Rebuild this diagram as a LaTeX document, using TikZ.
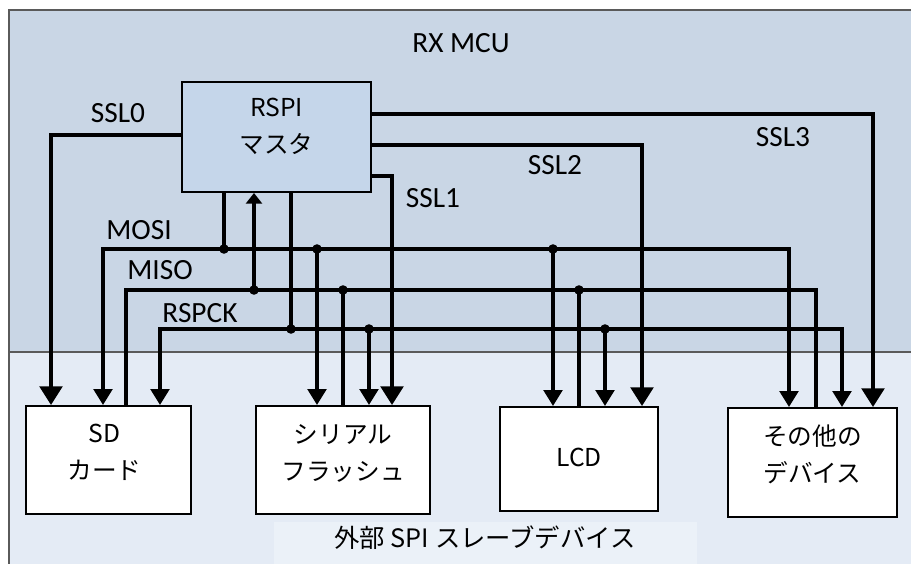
\documentclass[tikz,border=0pt]{standalone}
\usepackage{fontspec}
\setmainfont{Carlito}
\newfontfamily\jpfont{Noto Sans CJK JP}
\usetikzlibrary{arrows.meta, positioning}

\definecolor{mcublue}{RGB}{201,214,229}
\definecolor{rspiblue}{RGB}{197,214,234}
\definecolor{extblue}{RGB}{228,235,245}
\definecolor{lblblue}{RGB}{235,241,248}
\definecolor{framegray}{RGB}{90,90,90}

\begin{document}
\begin{tikzpicture}[x=0.75pt, y=-0.75pt, font=\fontsize{22}{26}\selectfont,
  box/.style = {draw, line width=1.5pt, inner sep=0pt},
  dev/.style = {box, fill=white},
  boxtext/.style = {align=center, font=\jpfont\fontsize{18.5}{27.75}\selectfont},
  wire/.style = {line width=2.6pt},
  selarrow/.style = {wire, -{Triangle[width=17pt, length=14pt]}},
  datarrow/.style = {wire, -{Triangle[width=14pt, length=12pt]}}]
  \useasboundingbox (0,0) rectangle (911,564);

  % background areas
  \fill[mcublue] (9,10) rectangle (911,352);
  \fill[extblue] (9,352) rectangle (911,564);
  \fill[lblblue] (274,522) rectangle (697,564);
  \draw[framegray, line width=0.8pt] (911,10) -- (9,10) -- (9,564);
  \draw[framegray, line width=0.8pt] (9,352) -- (911,352);

  \node (mcu) at (461,43) {RX MCU};
  \node[boxtext, font=\jpfont\fontsize{19}{23}\selectfont] (ext) at (485,538) {外部 SPI スレーブデバイス};

  % master and slave devices
  \node[box, fill=rspiblue, minimum width=141.75pt, minimum height=82.5pt,
        label={[boxtext, yshift=8pt]center:RSPI\\マスタ}] (rspi) at (276.5,137) {};
  \node[dev, minimum width=123.75pt, minimum height=81pt,
        label={[boxtext, yshift=6pt, xshift=-3pt]center:SD\\カード}] (sd) at (108.5,460) {};
  \node[dev, minimum width=130.5pt, minimum height=81pt,
        label={[boxtext, yshift=5pt]center:シリアル\\フラッシュ}] (flash) at (343,460) {};
  \node[dev, minimum width=118.5pt, minimum height=78pt,
        label={[boxtext, yshift=1.5pt]center:LCD}] (lcd) at (579,459) {};
  \node[dev, minimum width=126.75pt, minimum height=81.75pt,
        label={[boxtext, yshift=6pt]center:その他の\\デバイス}] (other) at (812.5,462.5) {};

  % bus taps
  \foreach \n/\x in {sd/103, fl/317, lcd/553, oth/789, m/224}
    \coordinate (mosi-\n) at (\x,249);
  \foreach \n/\x in {sd/126, fl/343, lcd/579, oth/816, m/254}
    \coordinate (miso-\n) at (\x,290);
  \foreach \n/\x in {sd/160, fl/369, lcd/605, oth/842, m/291}
    \coordinate (sck-\n) at (\x,329);
  \foreach \n/\x in {0/51, 1/392, 2/642, 3/873}
    \coordinate (ssl\n) at (\x,0);

  % slave selects
  \draw[selarrow] (rspi.west |- 0,135) -| (sd.north -| ssl0);
  \draw[selarrow] (rspi.east |- 0,176) -| (flash.north -| ssl1);
  \draw[selarrow] (rspi.east |- 0,145) -| (lcd.north -| ssl2);
  \draw[selarrow] (rspi.east |- 0,114) -| (other.north -| ssl3);

  % MOSI, MISO, RSPCK
  \draw[wire, {Triangle[width=14pt, length=12pt]}-{Triangle[width=14pt, length=12pt]}]
    (sd.north -| mosi-sd) -- (mosi-sd) -- (mosi-oth) -- (other.north -| mosi-oth);
  \draw[wire] (sd.north -| miso-sd) -- (miso-sd) -- (miso-oth) -- (other.north -| miso-oth);
  \draw[wire, {Triangle[width=14pt, length=12pt]}-{Triangle[width=14pt, length=12pt]}]
    (sd.north -| sck-sd) -- (sck-sd) -- (sck-oth) -- (other.north -| sck-oth);

  \draw[wire] (rspi.south -| mosi-m) -- (mosi-m);
  \draw[wire, -{Triangle[width=12pt, length=8pt]}] (miso-m) -- (rspi.south -| miso-m);
  \draw[wire] (rspi.south -| sck-m) -- (sck-m);

  \draw[datarrow] (mosi-fl) -- (flash.north -| mosi-fl);
  \draw[datarrow] (mosi-lcd) -- (lcd.north -| mosi-lcd);
  \draw[wire] (flash.north -| miso-fl) -- (miso-fl);
  \draw[wire] (lcd.north -| miso-lcd) -- (miso-lcd);
  \draw[datarrow] (sck-fl) -- (flash.north -| sck-fl);
  \draw[datarrow] (sck-lcd) -- (lcd.north -| sck-lcd);

  \foreach \p in {mosi-m, mosi-fl, mosi-lcd, miso-m, miso-fl, miso-lcd, sck-m, sck-fl, sck-lcd}
    \fill (\p) circle (3.6pt);

  % signal names
  \node (ssl0-lbl) at (118,113) {SSL0};
  \node (ssl1-lbl) at (433,198) {SSL1};
  \node (ssl2-lbl) at (555,165) {SSL2};
  \node (ssl3-lbl) at (783,137) {SSL3};
  \node (mosi-lbl) at (139,230) {MOSI};
  \node (miso-lbl) at (160,270) {MISO};
  \node (sck-lbl) at (200,313) {RSPCK};
\end{tikzpicture}
\end{document}
